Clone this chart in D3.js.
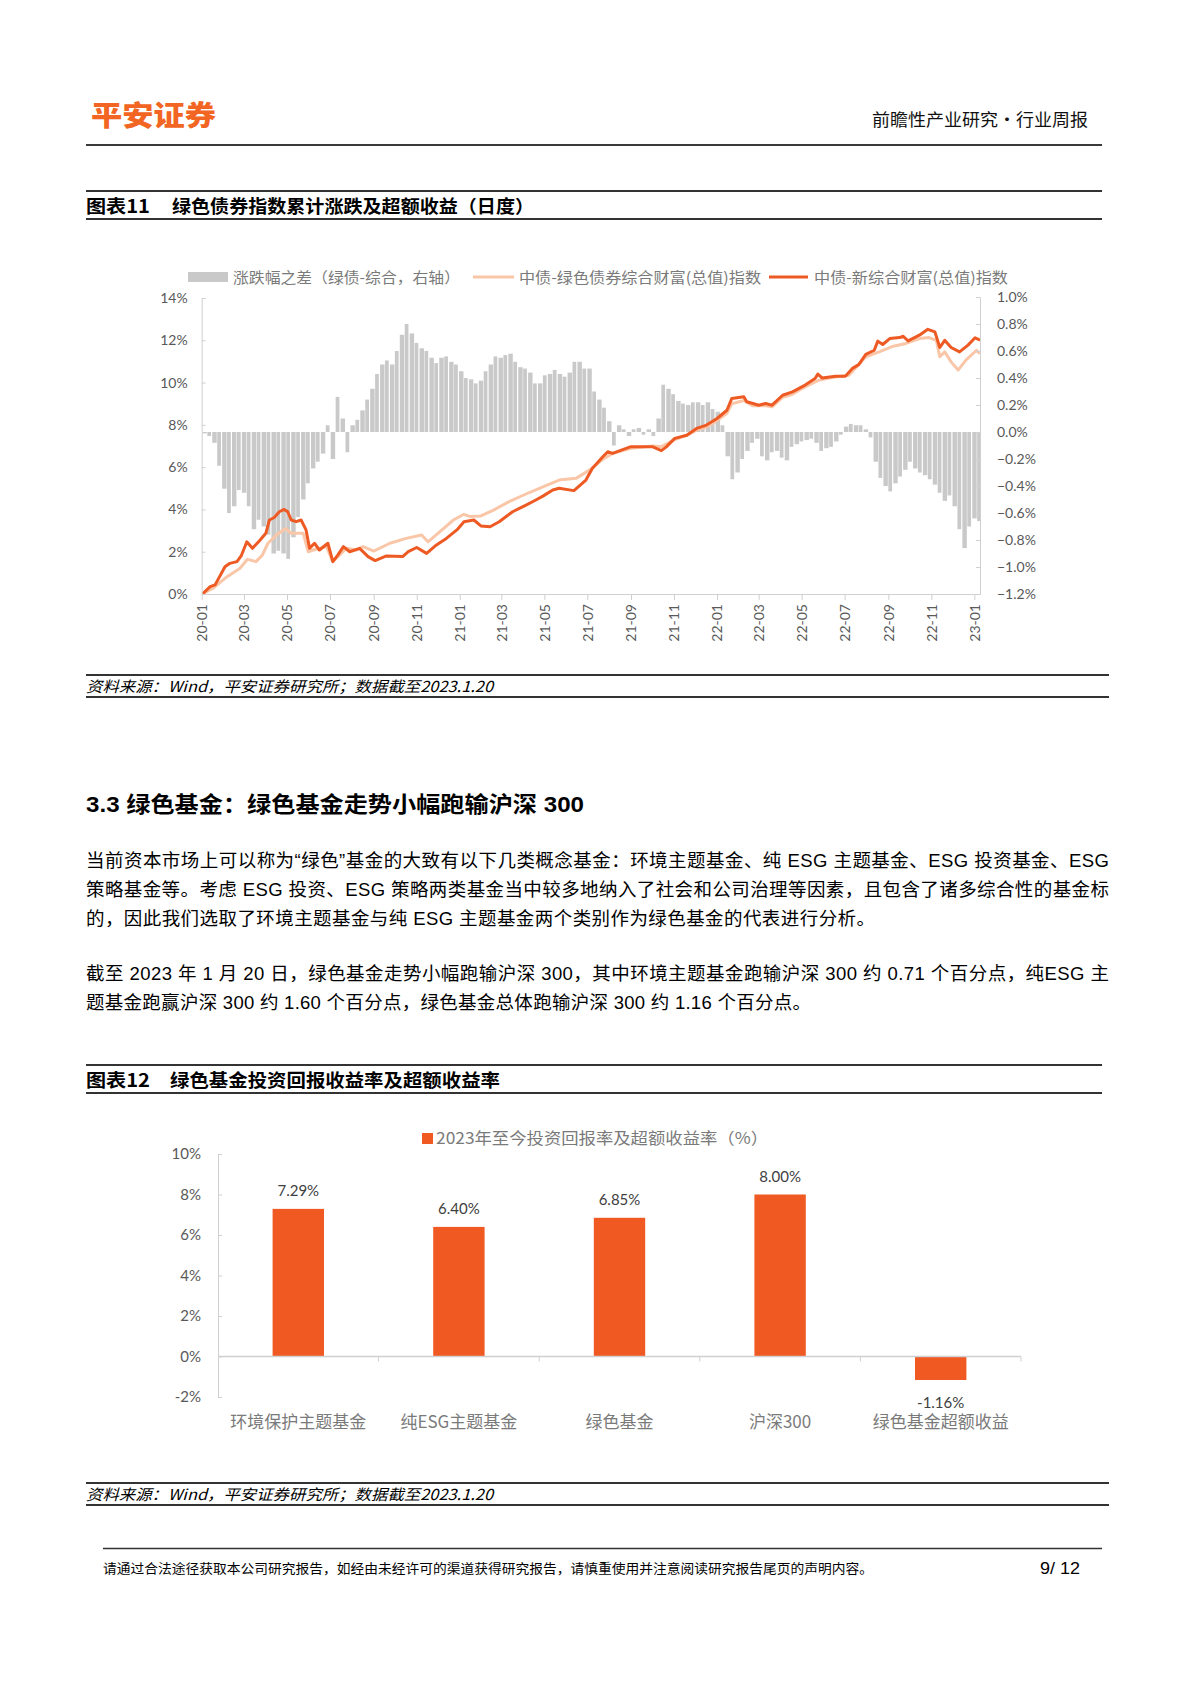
<!DOCTYPE html>
<html><head><meta charset="utf-8">
<script src="https://cdn.jsdelivr.net/npm/d3@7"></script>
<style>body{margin:0;background:#fff;} svg{display:block}</style>
</head><body>
<svg id="page" width="1191" height="1685"></svg>
<script>
// ---------------- DATA ----------------
// Chart 11: cumulative returns (%), left axis
const compositeIndex = [
 ["2020-01-02",0],["2020-01-13",0.35],["2020-01-20",0.43],["2020-02-03",1.29],["2020-02-10",1.45],
 ["2020-02-20",1.53],["2020-02-26",1.8],["2020-03-05",2.47],["2020-03-13",2.16],["2020-03-23",2.52],
 ["2020-04-01",2.87],["2020-04-06",3.5],["2020-04-13",3.62],["2020-04-20",3.89],["2020-04-27",4.0],
 ["2020-05-02",3.89],["2020-05-07",3.5],["2020-05-14",3.42],["2020-05-21",3.5],["2020-05-28",3.03],
 ["2020-06-02",2.16],["2020-06-09",2.4],["2020-06-16",2.08],["2020-06-28",2.4],["2020-07-05",1.53],
 ["2020-07-12",1.84],["2020-07-20",2.24],["2020-07-29",2.0],["2020-08-12",2.16],["2020-08-24",1.77],
 ["2020-09-03",1.58],["2020-09-19",1.8],["2020-10-12",1.77],["2020-10-20",2.0],["2020-11-01",2.2],
 ["2020-11-15",1.92],["2020-11-29",2.32],["2020-12-13",2.63],["2020-12-28",3.03],["2021-01-07",3.42],
 ["2021-01-21",3.5],["2021-01-31",3.22],["2021-02-13",3.18],["2021-02-26",3.42],["2021-03-17",3.89],
 ["2021-04-05",4.2],["2021-04-17",4.41],["2021-04-29",4.63],["2021-05-13",4.92],["2021-05-22",5.0],
 ["2021-06-12",4.89],["2021-06-29",5.39],["2021-07-08",5.94],["2021-07-23",6.49],["2021-07-30",6.73],
 ["2021-08-06",6.65],["2021-08-25",6.89],["2021-09-01",6.97],["2021-09-14",6.96],["2021-10-02",6.96],
 ["2021-10-14",6.78],["2021-10-21",6.96],["2021-11-02",7.36],["2021-11-19",7.51],["2021-12-03",7.83],
 ["2021-12-17",7.99],["2022-01-01",8.3],["2022-01-15",8.69],["2022-01-22",9.25],["2022-02-08",9.33],
 ["2022-02-12",9.09],["2022-02-21",9.01],["2022-03-01",8.93],["2022-03-11",9.01],["2022-03-20",8.93],
 ["2022-04-04",9.4],["2022-04-18",9.56],["2022-05-06",9.88],["2022-05-20",10.19],["2022-05-24",10.4],
 ["2022-05-30",10.22],["2022-06-18",10.3],["2022-07-02",10.3],["2022-07-12",10.67],["2022-07-21",10.85],
 ["2022-07-31",11.33],["2022-08-12",11.53],["2022-08-17",11.96],["2022-08-24",11.8],["2022-09-03",12.08],
 ["2022-09-17",12.13],["2022-09-22",12.19],["2022-09-29",11.97],["2022-10-15",12.24],["2022-10-27",12.52],
 ["2022-11-06",12.4],["2022-11-13",11.66],["2022-11-20",12.0],["2022-11-29",11.66],["2022-12-11",11.45],
 ["2022-12-23",11.77],["2023-01-02",12.12],["2023-01-09",12.0]
];
const greenIndex = [
 ["2020-01-02",0],["2020-01-17",0.27],["2020-02-06",0.82],["2020-02-24",1.21],["2020-03-06",1.64],
 ["2020-03-18",1.53],["2020-03-27",1.84],["2020-04-04",2.4],["2020-04-16",2.79],["2020-04-29",3.1],
 ["2020-05-07",2.87],["2020-05-24",2.87],["2020-05-31",2.0],["2020-06-07",2.08],["2020-06-26",2.24],
 ["2020-07-05",1.53],["2020-07-24",2.16],["2020-08-08",2.08],["2020-08-17",2.24],["2020-09-01",2.03],
 ["2020-09-24",2.4],["2020-10-17",2.63],["2020-11-08",2.79],["2020-11-17",2.47],["2020-12-04",2.95],
 ["2020-12-23",3.5],["2021-01-07",3.77],["2021-01-16",3.66],["2021-01-31",3.69],["2021-02-18",3.97],
 ["2021-03-12",4.37],["2021-04-05",4.73],["2021-04-29",5.07],["2021-05-22",5.39],["2021-06-15",5.47],
 ["2021-07-04",5.86],["2021-07-23",6.37],["2021-08-06",6.65],["2021-09-01",6.89],["2021-10-02",7.0],
 ["2021-10-14",6.97],["2021-11-02",7.3],["2021-11-19",7.5],["2021-12-03",7.75],["2021-12-17",7.9],
 ["2022-01-01",8.2],["2022-01-15",8.55],["2022-01-22",9.0],["2022-02-08",9.15],["2022-02-21",8.9],
 ["2022-03-11",8.9],["2022-03-20",8.85],["2022-04-04",9.3],["2022-04-18",9.45],["2022-05-06",9.8],
 ["2022-05-25",10.11],["2022-06-13",10.24],["2022-07-07",10.35],["2022-07-31",11.22],["2022-08-19",11.45],
 ["2022-09-08",11.72],["2022-09-26",11.85],["2022-10-15",12.08],["2022-10-29",12.13],["2022-11-08",12.0],
 ["2022-11-13",11.22],["2022-11-20",11.45],["2022-11-29",10.98],["2022-12-09",10.59],["2022-12-20",11.06],
 ["2023-01-04",11.53],["2023-01-09",11.37]
];
// weekly spread (green - composite, %), right axis; first week starts diffStart
const diffStart = "2020-01-02";
const diffValues = [
 -0.01,-0.03,-0.08,-0.25,-0.42,-0.6,-0.55,-0.43,-0.45,-0.55,
 -0.72,-0.65,-0.7,-0.76,-0.9,-0.88,-0.9,-0.94,-0.78,-0.63,
 -0.5,-0.38,-0.27,-0.22,-0.16,0.05,-0.2,0.26,0.1,-0.15,
 0.05,0.09,0.16,0.24,0.32,0.43,0.5,0.53,0.5,0.6,
 0.72,0.8,0.73,0.66,0.62,0.6,0.55,0.51,0.55,0.56,
 0.52,0.5,0.45,0.4,0.39,0.36,0.38,0.45,0.5,0.56,
 0.55,0.57,0.58,0.52,0.48,0.47,0.44,0.36,0.36,0.42,
 0.43,0.46,0.43,0.41,0.44,0.52,0.52,0.47,0.47,0.3,
 0.24,0.18,0.08,-0.1,0.05,0.02,-0.03,0.02,0.03,-0.02,
 0.02,-0.03,0.1,0.35,0.32,0.28,0.23,0.21,0.2,0.22,
 0.22,0.2,0.22,0.17,0.15,0.05,-0.18,-0.35,-0.3,-0.2,
 -0.14,-0.08,-0.05,-0.18,-0.21,-0.15,-0.14,-0.19,-0.21,-0.11,
 -0.09,-0.07,-0.06,-0.05,-0.08,-0.14,-0.12,-0.11,-0.07,-0.02,
 0.04,0.06,0.05,0.05,0.02,-0.04,-0.22,-0.34,-0.4,-0.44,
 -0.38,-0.33,-0.28,-0.22,-0.27,-0.3,-0.32,-0.35,-0.39,-0.45,
 -0.51,-0.47,-0.55,-0.72,-0.86,-0.7,-0.64,-0.66
];
const leftTicks = [0,2,4,6,8,10,12,14];
const rightTicks = [-1.2,-1.0,-0.8,-0.6,-0.4,-0.2,0.0,0.2,0.4,0.6,0.8,1.0];
const xTickLabels = ["20-01","20-03","20-05","20-07","20-09","20-11","21-01","21-03","21-05","21-07",
 "21-09","21-11","22-01","22-03","22-05","22-07","22-09","22-11","23-01"];
const legend1 = ["涨跌幅之差（绿债-综合，右轴）","中债-绿色债券综合财富(总值)指数","中债-新综合财富(总值)指数"];

// Chart 12
const fundCategories = ["环境保护主题基金","纯ESG主题基金","绿色基金","沪深300","绿色基金超额收益"];
const fundValues = [7.29, 6.40, 6.85, 8.00, -1.16];
const fundTicks = [-2,0,2,4,6,8,10];
const legend2 = "2023年至今投资回报率及超额收益率（%）";

// ---------------- DRAW ----------------
const svg = d3.select("#page");
const CJK = "'Noto Sans CJK SC', sans-serif";
const BODY = "'Liberation Sans', 'Noto Sans CJK SC', sans-serif";
const NUM = "Lato, 'Noto Sans CJK SC', sans-serif";
const ORANGE = "#EE5A24", PEACH = "#FAC6A8", GRAY = "#C9C9C9", AX = "#D0D0D0", LBL = "#595959", LEG = "#7a7a7a";

function hline(x1,x2,y,w,c){ svg.append("line").attr("x1",x1).attr("x2",x2).attr("y1",y).attr("y2",y).attr("stroke",c).attr("stroke-width",w); }
function txt(x,y,s,o){ o=o||{}; const t=svg.append("text").attr("x",x).attr("y",y).text(s)
  .attr("font-family",o.ff||CJK).attr("font-size",o.fs||16).attr("fill",o.fill||"#000")
  .attr("font-weight",o.fw||400).attr("text-anchor",o.anchor||"start");
  if(o.italic) t.attr("font-style","italic");
  if(o.len) t.attr("textLength",o.len).attr("lengthAdjust",o.adj||"spacingAndGlyphs");
  return t; }

// header
txt(91,126,"平安证券",{fs:28,fw:900,fill:"#F26522",len:125});
txt(1088,126,"前瞻性产业研究·行业周报",{fs:17,len:216,anchor:"end",fill:"#111"});
hline(86,1102,145,2,"#3a3a3a");

// figure 11 title
hline(86,1102,191,2,"#333");
txt(86,213,"图表11",{fs:18,fw:700,len:64});
txt(172,213,"绿色债券指数累计涨跌及超额收益（日度）",{fs:18,fw:700,len:362});
hline(86,1102,219,2,"#333");

// chart 11
const parse = d3.timeParse("%Y-%m-%d");
const X0 = 201.7, X1 = 980, YB = 594, YT = 297;
const x = d3.scaleTime().domain([new Date(2020,0,1), new Date(2023,0,9)]).range([X0,X1]);
const yL = d3.scaleLinear().domain([0,14]).range([YB,YT+1]);
const yR = d3.scaleLinear().domain([-1.2,1.0]).range([YB,YT]);

svg.append("clipPath").attr("id","clip1").append("rect").attr("x",X0).attr("y",YT-10).attr("width",X1-X0).attr("height",YB-YT+20);
const g1 = svg.append("g").attr("clip-path","url(#clip1)");
const start = parse(diffStart);
const bars = diffValues.map((v,i)=>({d:d3.timeDay.offset(start,7*i), v}));
g1.selectAll("rect.b").data(bars).join("rect").attr("class","b")
  .attr("x",d=>x(d.d)).attr("width",d=>Math.max(1, x(d3.timeDay.offset(d.d,7))-x(d.d)-(bars.indexOf(d)%2?1.2:0.5)))
  .attr("y",d=>Math.min(yR(0),yR(d.v))).attr("height",d=>Math.abs(yR(d.v)-yR(0)))
  .attr("fill",GRAY);
const line = d3.line().x(d=>x(parse(d[0]))).y(d=>yL(d[1]));
g1.append("path").datum(greenIndex).attr("d",line).attr("fill","none").attr("stroke",PEACH).attr("stroke-width",3).attr("stroke-linejoin","round");
g1.append("path").datum(compositeIndex).attr("d",line).attr("fill","none").attr("stroke",ORANGE).attr("stroke-width",3).attr("stroke-linejoin","round");

// axes chart 11
const axL = svg.append("g").attr("transform",`translate(${X0},0)`)
  .call(d3.axisRight(yL).tickValues(leftTicks).tickSize(4).tickFormat(d=>d+"%"));
axL.select(".domain").attr("stroke",AX);
axL.selectAll(".tick line").attr("stroke",AX);
axL.selectAll(".tick text").attr("x",-14).attr("text-anchor","end").attr("font-family",NUM).attr("font-size",14).attr("fill",LBL);
const axR = svg.append("g").attr("transform",`translate(${X1},0)`)
  .call(d3.axisLeft(yR).tickValues(rightTicks).tickSize(4).tickFormat(d3.format(".1f")));
axR.select(".domain").attr("stroke",AX);
axR.selectAll(".tick line").attr("stroke",AX);
axR.selectAll(".tick text").text(d=>d3.format(".1f")(d)+"%").attr("x",17).attr("text-anchor","start").attr("font-family",NUM).attr("font-size",14).attr("fill",LBL);
const tickDates = xTickLabels.map(s=>new Date(2000+ +s.slice(0,2), +s.slice(3)-1, 1));
const axB = svg.append("g").attr("transform",`translate(0,${YB})`)
  .call(d3.axisBottom(x).tickValues(tickDates).tickSize(6).tickSizeOuter(0).tickFormat((d,i)=>xTickLabels[i]));
axB.select(".domain").attr("stroke",AX);
axB.selectAll(".tick line").attr("stroke",AX);
axB.selectAll(".tick text").attr("transform","rotate(-90)").attr("x",-10).attr("y",0).attr("dy","0.35em")
  .attr("text-anchor","end").attr("font-family",NUM).attr("font-size",14).attr("fill",LBL);

// legend 11
svg.append("rect").attr("x",188).attr("y",272).attr("width",40).attr("height",10).attr("fill",GRAY);
txt(233,283,legend1[0],{fs:15,fill:LEG,len:227});
hline(473,514,277,3,PEACH);
txt(519,283,legend1[1],{fs:15,fill:LEG,len:242});
hline(769,808,277,3,ORANGE);
txt(814,283,legend1[2],{fs:15,fill:LEG,len:194});

// source 1
hline(86,1109,675,2,"#333");
txt(86,692,"资料来源：Wind，平安证券研究所；数据截至2023.1.20",{fs:15,italic:true,len:407});
hline(86,1109,697,2,"#333");

// section heading & paragraphs
txt(86,812,"3.3 绿色基金：绿色基金走势小幅跑输沪深 300",{ff:BODY,fs:22,fw:700,len:498});
const paraLines = [
 ["当前资本市场上可以称为“绿色”基金的大致有以下几类概念基金：环境主题基金、纯 ESG 主题基金、ESG 投资基金、ESG",867,1023],
 ["策略基金等。考虑 ESG 投资、ESG 策略两类基金当中较多地纳入了社会和公司治理等因素，且包含了诸多综合性的基金标",896,1023],
 ["的，因此我们选取了环境主题基金与纯 ESG 主题基金两个类别作为绿色基金的代表进行分析。",925,789],
 ["截至 2023 年 1 月 20 日，绿色基金走势小幅跑输沪深 300，其中环境主题基金跑输沪深 300 约 0.71 个百分点，纯ESG 主",980,1023],
 ["题基金跑赢沪深 300 约 1.60 个百分点，绿色基金总体跑输沪深 300 约 1.16 个百分点。",1009,725]
];
paraLines.forEach(p=>txt(86,p[1],p[0],{ff:BODY,fs:18.5,len:p[2],adj:"spacing"}));

// figure 12 title
hline(86,1102,1065,2,"#333");
txt(86,1087,"图表12",{fs:18,fw:700,len:64});
txt(170,1087,"绿色基金投资回报收益率及超额收益率",{fs:18,fw:700,len:330});
hline(86,1102,1093,2,"#333");

// chart 12
const BX0 = 218, BX1 = 1021;
const xb = d3.scaleBand().domain(fundCategories).range([BX0,BX1]).paddingInner(0.68).paddingOuter(0.34);
const yb = d3.scaleLinear().domain([-2,10]).range([1397,1154]);
const BAR = "#F05A22";
svg.selectAll("rect.f").data(fundCategories).join("rect").attr("class","f")
  .attr("x",d=>xb(d)).attr("width",xb.bandwidth())
  .attr("y",(d,i)=>Math.min(yb(0),yb(fundValues[i]))).attr("height",(d,i)=>Math.abs(yb(fundValues[i])-yb(0)))
  .attr("fill",BAR);
svg.selectAll("text.fv").data(fundCategories).join("text").attr("class","fv")
  .attr("x",d=>xb(d)+xb.bandwidth()/2)
  .attr("y",(d,i)=>fundValues[i]>=0 ? yb(fundValues[i])-13 : yb(fundValues[i])+28)
  .attr("text-anchor","middle").attr("font-family",NUM).attr("font-size",15).attr("fill","#404040")
  .text((d,i)=>fundValues[i].toFixed(2)+"%");
const ayb = svg.append("g").attr("transform",`translate(${BX0},0)`)
  .call(d3.axisRight(yb).tickValues(fundTicks).tickSize(4).tickFormat(d=>d+"%"));
ayb.select(".domain").attr("stroke",AX);
ayb.selectAll(".tick line").attr("stroke",AX);
ayb.selectAll(".tick text").attr("x",-17).attr("text-anchor","end").attr("font-family",NUM).attr("font-size",15).attr("fill",LBL);
// category axis at 0
hline(BX0,BX1,yb(0),1.5,AX);
const step = xb.step();
fundCategories.forEach((c,i)=>{
  const bx = BX0 + step*(i+1);
  svg.append("line").attr("x1",bx).attr("x2",bx).attr("y1",yb(0)).attr("y2",yb(0)+5).attr("stroke",AX);
});
svg.selectAll("text.fc").data(fundCategories).join("text").attr("class","fc")
  .attr("x",d=>xb(d)+xb.bandwidth()/2).attr("y",1428).attr("text-anchor","middle")
  .attr("font-family",CJK).attr("font-size",17).attr("fill",LEG).text(d=>d);
// legend 12
svg.append("rect").attr("x",422).attr("y",1133).attr("width",11).attr("height",11).attr("fill",BAR);
txt(436,1144,legend2,{fs:16,fill:LEG,len:332});

// source 2
hline(86,1109,1483,2,"#333");
txt(86,1500,"资料来源：Wind，平安证券研究所；数据截至2023.1.20",{fs:15,italic:true,len:407});
hline(86,1109,1505,2,"#333");

// footer
hline(103,1102,1548.5,1.5,"#333");
txt(103,1573,"请通过合法途径获取本公司研究报告，如经由未经许可的渠道获得研究报告，请慎重使用并注意阅读研究报告尾页的声明内容。",{fs:13,len:770});
txt(1040,1574,"9/ 12",{ff:BODY,fs:17,len:40});
</script>
</body></html>
